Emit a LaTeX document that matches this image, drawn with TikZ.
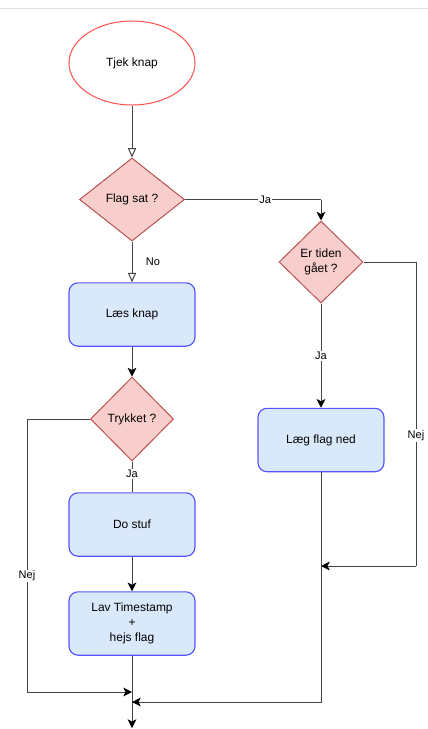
\documentclass[tikz,border=0pt]{standalone}
\usepackage{fontspec}
\setmainfont{Liberation Sans}
\usetikzlibrary{shapes.geometric,arrows.meta}

\definecolor{dia_fill}{HTML}{F8CECC}
\definecolor{dia_draw}{HTML}{B85450}
\definecolor{box_fill}{HTML}{DAE8FC}
\definecolor{box_draw}{HTML}{5555FF}
\definecolor{ell_draw}{HTML}{FF4D4D}
\definecolor{line_col}{HTML}{444444}

\tikzset{
  start_ell/.style={ellipse,minimum width=3.78cm,minimum height=2.52cm,fill=white,draw=ell_draw,line width=.85pt},
  dec_dia/.style={diamond,inner sep=0pt,fill=dia_fill,draw=dia_draw,line width=.85pt,align=center},
  proc_box/.style={rectangle,rounded corners=.27cm,minimum width=3.78cm,minimum height=1.9cm,fill=box_fill,draw=box_draw,line width=1pt,align=center},
}

\begin{document}
\begin{tikzpicture}[
  x=.03cm, y=-.03cm,
  every node/.style={color=black,font=\fontsize{10.2}{12.5}\selectfont},
  flow_line/.style={draw=line_col,line width=.85pt},
  open_arr/.style={flow_line,-{Triangle[open,length=8pt,width=7pt,fill=white]}},
  solid_arr/.style={flow_line,-{Stealth[length=7.5pt,width=7.5pt,inset=2pt,color=black]}},
  edge_lbl/.style={fill=white,inner sep=1pt,font=\fontsize{9.4}{11}\selectfont},
  ]

  \useasboundingbox (0,0) rectangle (428,729);
  \draw[gray!25,line width=.85pt] (0,8) -- (428,8);

  % left column
  \node[start_ell] (tjek) at (132,63) {Tjek knap};
  \node[dec_dia,minimum width=3.15cm,minimum height=2.49cm] (flag) at (132,199.5) {Flag sat ?};
  \node[proc_box] (laes) at (132,314.5) {Læs knap};
  \node[dec_dia,minimum width=2.49cm,minimum height=2.52cm] (tryk) at (132,419) {Trykket ?};
  \node[proc_box] (dostuf) at (132,524.5) {Do stuf};
  \node[proc_box] (lav) at (132,623.5) {Lav Timestamp\\+\\hejs flag};

  % right column
  \node[dec_dia,minimum width=2.52cm,minimum height=2.46cm] (tid) at (321,262) {Er tiden\\gået ?};
  \node[proc_box] (laeg) at (321,440) {Læg flag ned};

  \coordinate (join_nej) at (132,692);
  \coordinate (join_tid) at (321,566);
  \coordinate (join_laeg) at (132,702);
  \coordinate (flow_end) at (132,728);

  \draw[open_arr] (tjek) -- (flag);
  \draw[open_arr] (flag) -- (laes)
    node[edge_lbl,midway,xshift=.63cm] {No};
  \draw[solid_arr] (laes) -- (tryk);
  \draw[flow_line] (tryk) -- (dostuf)
    node[edge_lbl,pos=.41] {Ja};
  \draw[solid_arr] (dostuf) -- (lav);
  \draw[solid_arr] (lav) -- (flow_end);

  \draw[flow_line] (flag.east) -- (tid.north |- flag.east)
    node[edge_lbl,pos=.59] {Ja};
  \draw[solid_arr] (tid.north |- flag.east) -- (tid.north);
  \draw[solid_arr] (tid) -- (laeg)
    node[edge_lbl,midway] {Ja};

  \draw[flow_line] (tid.east) -- (416,262) coordinate (tid_corner)
    -- (tid_corner |- join_tid) node[edge_lbl,pos=.57] {Nej};
  \draw[solid_arr] (tid_corner |- join_tid) -- (join_tid);

  \draw[flow_line] (tryk.west) -- (27,419) coordinate (tryk_corner)
    -- (tryk_corner |- join_nej) node[edge_lbl,pos=.575] {Nej};
  \draw[solid_arr] (tryk_corner |- join_nej) -- (join_nej);

  \draw[solid_arr] (laeg) -- (laeg |- join_laeg) -- (join_laeg);

\end{tikzpicture}
\end{document}
